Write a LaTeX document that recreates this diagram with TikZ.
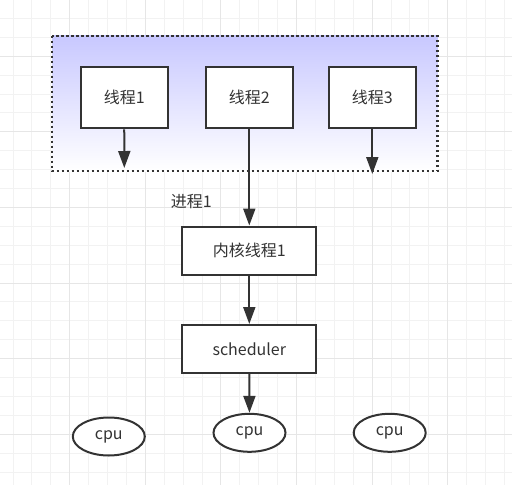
\documentclass[tikz,border=0pt]{standalone}
\usepackage{fontspec}
\setmainfont{Noto Sans CJK SC}
\usetikzlibrary{arrows.meta, shapes.geometric}
\definecolor{inkgray}{HTML}{333333}
\definecolor{lavender}{HTML}{C8C8FF}
\definecolor{gridminor}{HTML}{F2F2F2}
\definecolor{gridmajor}{HTML}{E6E6E6}

\begin{document}
\begin{tikzpicture}[x=1pt, y=-1pt,
          tbox/.style={rectangle, draw=inkgray, line width=2pt, fill=white,
                       font=\fontsize{16}{19}\selectfont, text=inkgray,
                       minimum width=87pt, minimum height=61pt, inner sep=0pt},
          kbox/.style={tbox, minimum width=134pt, minimum height=48pt},
          core/.style={ellipse, draw=inkgray, line width=2pt, fill=white,
                       font=\fontsize{16}{19}\selectfont, text=inkgray,
                       minimum width=72pt, minimum height=38pt, inner sep=0pt},
          arr/.style={-{Triangle[width=12pt, length=17pt]}, line width=2pt, inkgray},
          minorgrid/.style={gridminor, line width=1pt},
          majorgrid/.style={gridmajor, line width=1pt}
        ]
        \useasboundingbox (0,0) rectangle (512,485);
        \fill[white] (0,0) rectangle (512,485);
        % background grid
        \foreach \gx in {0,...,26} \draw[minorgrid] ({13+18.9*\gx},0) -- ++(0,485);
        \foreach \gy in {0,...,24} \draw[minorgrid] (0,{18.4+18.9*\gy}) -- ++(512,0);
        \foreach \gx in {0,...,5} \draw[majorgrid] ({69.7+75.6*\gx},0) -- ++(0,485);
        \foreach \gy in {0,...,5} \draw[majorgrid] (0,{56.2+75.6*\gy}) -- ++(512,0);

        % process container
        \shade[top color=lavender, bottom color=white] (52,35.7) rectangle (437.5,171);
        \draw[inkgray, line width=2.2pt, dash pattern=on 2.2pt off 2.8pt] (52,35.7) rectangle (437.5,171);

        \node[tbox] (T1) at (124.2,97.8) {线程1};
        \node[tbox] (T2) at (249.3,97.8) {线程2};
        \node[tbox] (T3) at (372.3,97.8) {线程3};
        \coordinate (T1end) at (124.3,168);
        \coordinate (T3end) at (372.3,174);

        \node[font=\fontsize{16}{19}\selectfont, text=inkgray] (P1) at (191.2,201.7) {进程1};

        \node[kbox] (K1) at (249.3,250.5) {内核线程1};
        \node[kbox] (S) at (249.3,349) {scheduler};

        \node[core] (C1) at (108.8,436.5) {cpu};
        \node[core] (C2) at (249.5,432.8) {cpu};
        \node[core] (C3) at (389.7,432.8) {cpu};

        \draw[arr] (T1) -- (T1end);
        \draw[arr] (T3) -- (T3end);
        \draw[arr] (T2) -- (K1);
        \draw[arr] (K1) -- (S);
        \draw[arr] (S) -- (C2);
      \end{tikzpicture}
\end{document}
